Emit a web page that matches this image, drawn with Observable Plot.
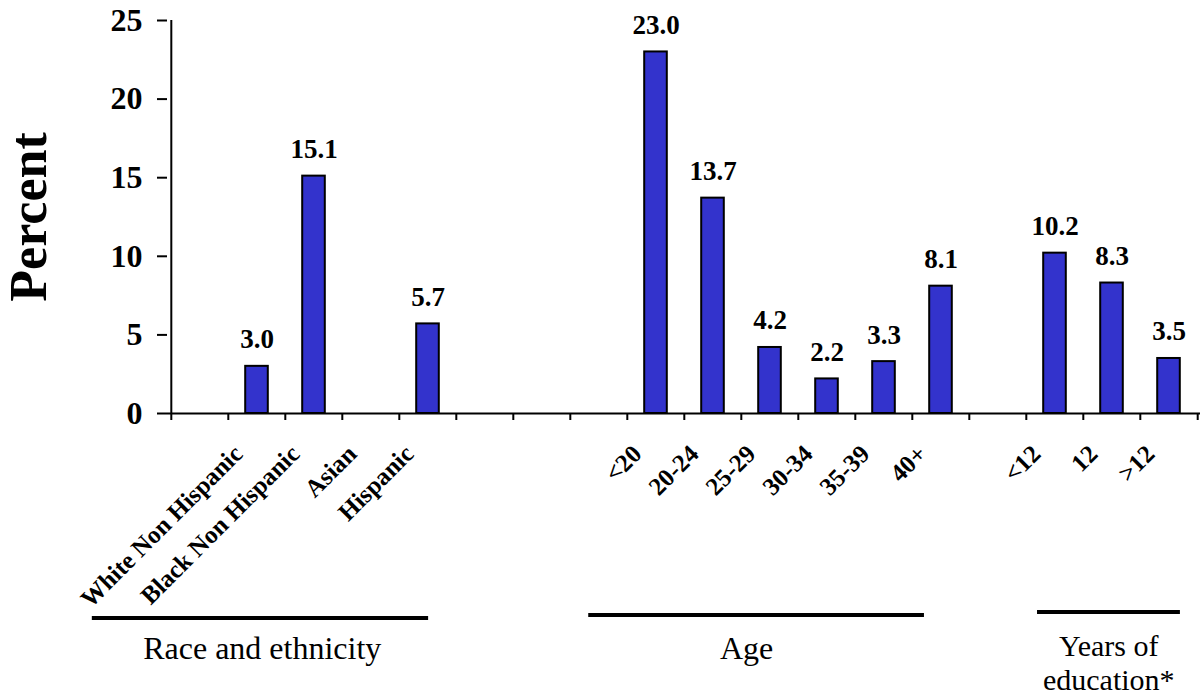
<!DOCTYPE html>
<html>
<head>
<meta charset="utf-8">
<script src="https://cdn.jsdelivr.net/npm/d3@7"></script>
<script src="https://cdn.jsdelivr.net/npm/@observablehq/plot@0.6"></script>
<style>
  html, body { margin: 0; padding: 0; background: #fff; }
  #chart svg { display: block; }
</style>
</head>
<body>
<div id="chart"></div>
<script>
// ---- data ----
const categories = ["", "White Non Hispanic", "Black Non Hispanic", "Asian", "Hispanic", "", "", "",
  "<20", "20-24", "25-29", "30-34", "35-39", "40+", "", "<12", "12", ">12"];
const values = [null, 3.0, 15.1, null, 5.7, null, null, null,
  23.0, 13.7, 4.2, 2.2, 3.3, 8.1, null, 10.2, 8.3, 3.5];
const yTicks = [0, 5, 10, 15, 20, 25];
const yLabel = "Percent";
const groupNames = ["Race and ethnicity", "Age", "Years of\neducation*"];

// ---- layout ----
const W = 1201, H = 694;
const mL = 167, mR = 1, mT = 20, mB = 281;
const step = (W - mL - mR) / categories.length;
const serif = "'Liberation Serif', 'Times New Roman', Times, serif";

const rows = categories.map((c, i) => ({i, label: c, value: values[i]}));
const barRows = rows.filter(d => d.value != null);
const idx = d3.range(categories.length);

const plot = Plot.plot({
  width: W, height: H,
  marginLeft: mL, marginRight: mR, marginTop: mT, marginBottom: mB,
  style: {fontFamily: serif, background: "#fff", color: "#000", overflow: "visible"},
  x: {type: "band", domain: idx, padding: 0, axis: null},
  y: {domain: [0, 25], axis: null},
  marks: [
    Plot.barY(barRows, {x: "i", y: "value", fill: "#3333cc", stroke: "#000", strokeWidth: 2,
      insetLeft: 17.2, insetRight: 17.2}),
    Plot.axisY({ticks: yTicks, tickSize: 10, tickPadding: 15, fontSize: 32, fontWeight: "bold",
      strokeWidth: 2, label: null}),
    Plot.ruleX([0], {x: 0, y1: 0, y2: 25, dx: -step / 2, strokeWidth: 2}),
    Plot.ruleY([0], {strokeWidth: 2}),
    Plot.axisX({ticks: idx, tickSize: 7, tickFormat: () => "", dx: -step / 2, strokeWidth: 2, label: null}),
    Plot.axisX({ticks: [idx[idx.length - 1]], tickSize: 7, tickFormat: () => "", dx: step / 2, strokeWidth: 2, label: null}),
    Plot.text(rows.filter(d => d.label !== ""), {x: "i", y: 0, text: "label", rotate: -45,
      textAnchor: "end", lineAnchor: "bottom", dx: -13, dy: 42, fontSize: 25, fontWeight: "bold"}),
    Plot.text(barRows, {x: "i", y: "value", text: d => d.value.toFixed(1), lineAnchor: "bottom",
      dy: -18, fontSize: 27, fontWeight: "bold"}),
    Plot.text([yLabel], {frameAnchor: "left", rotate: -90, textAnchor: "middle", lineAnchor: "bottom",
      dx: -122, fontSize: 52, fontWeight: "bold"})
  ]
});
document.getElementById("chart").appendChild(plot);

// ---- group brackets (annotation layout, in band-step units) ----
const xs = plot.scale("x");
const x0 = xs.range[0];
const groupLayout = [
  {from: -1.31, to: 4.55, at: 1.66, lineDy: 205, size: 32},
  {from: 7.34, to: 13.19, at: 10.10, lineDy: 202, size: 32},
  {from: 15.16, to: 17.65, at: 16.41, lineDy: 199, size: 30}
];
const y0 = plot.scale("y").apply(0);
const svg = d3.select(plot);
groupLayout.forEach((g, k) => {
  svg.append("line")
    .attr("x1", x0 + g.from * step).attr("x2", x0 + g.to * step)
    .attr("y1", y0 + g.lineDy).attr("y2", y0 + g.lineDy)
    .attr("stroke", "#000").attr("stroke-width", 4);
  const lines = groupNames[k].split("\n");
  lines.forEach((line, j) => {
    svg.append("text")
      .attr("x", x0 + g.at * step)
      .attr("y", y0 + (lines.length > 1 ? 243 : 246) + j * 34)
      .attr("text-anchor", "middle")
      .attr("font-family", serif).attr("font-size", g.size).attr("fill", "#000")
      .text(line);
  });
});
</script>
</body>
</html>
